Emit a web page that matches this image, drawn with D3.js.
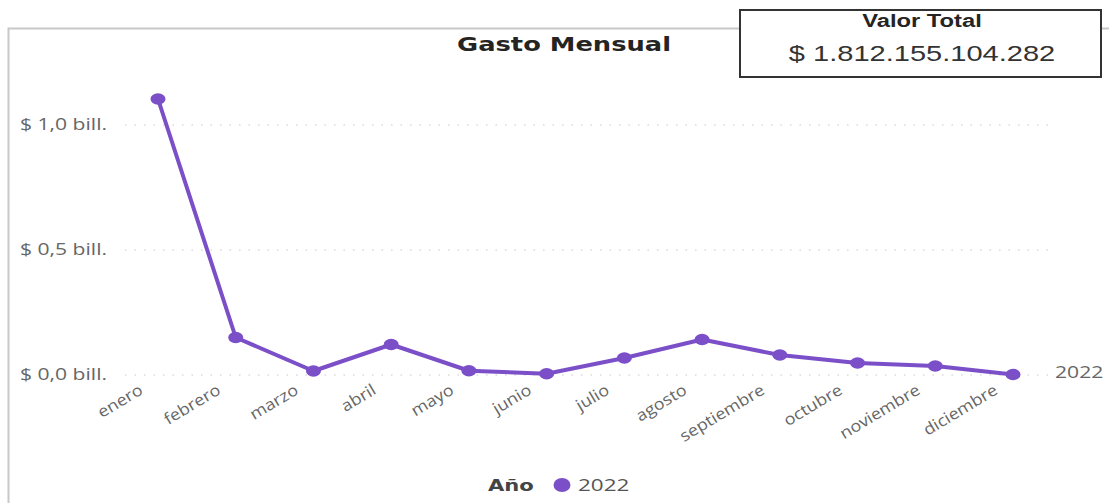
<!DOCTYPE html>
<html>
<head>
<meta charset="utf-8">
<script src="https://cdn.jsdelivr.net/npm/d3@7"></script>
<style>
  body { margin: 0; background: #fff; }
  svg { display: block; }
</style>
</head>
<body>
<div id="chart"></div>
<script>
// data (pesos)
var months = ["enero", "febrero", "marzo", "abril", "mayo", "junio", "julio",
  "agosto", "septiembre", "octubre", "noviembre", "diciembre"]
var gasto2022 = [1.104e12, 0.150e12, 0.016e12, 0.122e12, 0.017e12, 0.005e12,
  0.068e12, 0.142e12, 0.080e12, 0.048e12, 0.036e12, 0.002e12]
var yTicks = [0, 0.5e12, 1.0e12]
var seriesName = "2022"
var totalText = "$ 1.812.155.104.282"

var W = 1109, H = 503
var S = 1.32   // the screenshot is stretched sideways
var purple = "#7b4fc8"
var font = "'Open Sans', 'Noto Sans', sans-serif"

var svg = d3.select("#chart").append("svg")
  .attr("width", W)
  .attr("height", H)

// text helper: place + stretch horizontally like the reference
function label(x, y, txt, size, opts){
  opts = opts || {}
  return svg.append("text")
    .attr("transform", "translate(" + x + "," + y + ") scale(" + S + ",1)")
    .attr("text-anchor", opts.anchor || "start")
    .style("font-family", opts.family || font)
    .style("font-weight", opts.weight || "normal")
    .style("font-size", size + "px")
    .style("fill", opts.fill || "#666")
    .text(txt)
}

// visual frame
svg.append("path")
  .attr("d", "M8.5," + H + " V28.5 H1109")
  .attr("fill", "none")
  .attr("stroke", "#c8c8c8")
  .attr("stroke-width", 2)

label(564, 51, "Gasto Mensual", 19.5, {anchor: "middle", family: "'DejaVu Sans', sans-serif", weight: "bold", fill: "#252423"})

// scales
var x = d3.scalePoint()
  .domain(months)
  .range([158, 1013])
var y = d3.scaleLinear()
  .domain([0, 1.0e12])
  .range([375, 125])

var fmt = function(v){ return "$ " + d3.format(".1f")(v / 1e12).replace(".", ",") + " bill." }

// y labels + dotted gridlines
yTicks.forEach(function(t){
  label(20, y(t) + 5, fmt(t), 16, {fill: "#666"})
})
svg.append("g").selectAll("line")
  .data(yTicks)
  .enter()
  .append("line")
    .attr("x1", 125).attr("x2", 1048)
    .attr("y1", function(d){ return y(d) })
    .attr("y2", function(d){ return y(d) })
    .attr("stroke", "#c8c8c8")
    .attr("stroke-width", 1.2)
    .attr("stroke-dasharray", "1.5,8")

// x axis labels, rotated (glyphs widened along the baseline)
var xAxis = svg.append("g")
  .attr("transform", "translate(0,375)")
  .call(d3.axisBottom(x).tickSize(0))
xAxis.select(".domain").remove()
xAxis.selectAll(".tick")
  .attr("transform", function(d){ return "translate(" + (x(d) - 14) + ",18)" })
xAxis.selectAll("text")
  .attr("text-anchor", "end")
  .attr("y", 0).attr("dy", 0)
  .attr("transform", "rotate(-31) scale(1.12,1)")
  .style("font-family", font)
  .style("font-size", "16px")
  .style("fill", "#666")

// line + points
var line = d3.line()
  .x(function(d, i){ return x(months[i]) })
  .y(function(d){ return y(d) })
svg.append("path")
  .datum(gasto2022)
  .attr("d", line)
  .attr("fill", "none")
  .attr("stroke", purple)
  .attr("stroke-width", 4)
  .attr("stroke-linejoin", "round")
svg.selectAll("mydots")
  .data(gasto2022)
  .enter()
  .append("ellipse")
    .attr("cx", function(d, i){ return x(months[i]) })
    .attr("cy", function(d){ return y(d) })
    .attr("rx", 7.5)
    .attr("ry", 5.8)
    .style("fill", purple)

// end label
label(1055, y(gasto2022[11]) + 3, seriesName, 16, {fill: "#666"})

// legend
label(488, 491, "Año", 16, {family: "'DejaVu Sans', sans-serif", weight: "bold", fill: "#444"})
svg.append("ellipse")
  .attr("cx", 562).attr("cy", 485).attr("rx", 8.5).attr("ry", 7)
  .style("fill", purple)
label(578, 491, seriesName, 17, {fill: "#555"})

// total card
svg.append("rect")
  .attr("x", 740).attr("y", 10)
  .attr("width", 361).attr("height", 67)
  .attr("fill", "#fff")
  .attr("stroke", "#333")
  .attr("stroke-width", 2)
label(922, 27, "Valor Total", 18, {anchor: "middle", family: "'Liberation Sans', Arial, sans-serif", weight: "bold", fill: "#252423"})
label(922, 61, totalText, 22, {anchor: "middle", family: "'Liberation Sans', Arial, sans-serif", fill: "#333"})
</script>
</body>
</html>
